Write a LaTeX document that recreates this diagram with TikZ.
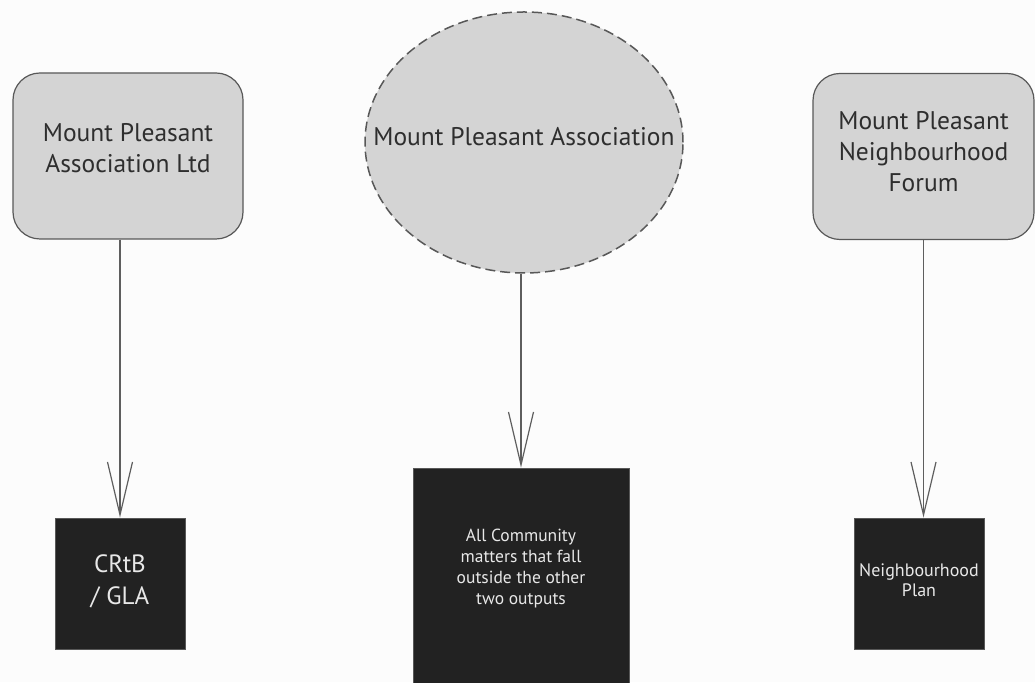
\documentclass[tikz,border=0pt]{standalone}
\usepackage{fontspec}
\setmainfont{PT Sans}
\usetikzlibrary{arrows.meta, shapes.geometric}
\definecolor{boxgrey}{HTML}{D4D4D4}
\definecolor{edgegrey}{HTML}{585858}
\definecolor{pilgrey}{HTML}{5E5E5E}
\definecolor{orgtext}{HTML}{2E2E2E}
\definecolor{outblack}{HTML}{222222}
\definecolor{outtext}{HTML}{E8E8E8}
\definecolor{pagewhite}{HTML}{FCFCFC}
\begin{document}
\begin{tikzpicture}[
        x=1pt, y=1pt,
        orgbox/.style = {rectangle, rounded corners=27pt, draw=edgegrey, line width=1.2pt, fill=boxgrey, text=orgtext, minimum width=230pt, minimum height=166pt, inner sep=0pt, align=center, font=\fontsize{25.5}{31}\selectfont},
        orgoval/.style = {ellipse, draw=edgegrey, line width=1.5pt, dash pattern=on 10pt off 5pt, fill=boxgrey, minimum width=318pt, minimum height=261pt, inner sep=0pt},
        outbox/.style = {rectangle, draw=edgegrey, line width=0.8pt, fill=outblack, text=outtext, inner sep=0pt, align=center},
        pil/.style = {pilgrey, line width=1.2pt, -{Straight Barb[length=53pt, width=25pt, line width=1.2pt]}}
        ]
        \useasboundingbox[fill=pagewhite] (0,0) rectangle (1035,682);
        \node[orgbox, text depth=16pt] (ltd) at (128,526) {Mount Pleasant\\Association Ltd};
        \node[orgoval, label={[text=orgtext, font=\fontsize{25.5}{31}\selectfont, yshift=6pt]center:Mount Pleasant Association}] (mpa) at (524,539.5) {};
        \node[orgbox, minimum width=221pt, text depth=10pt] (forum) at (923.5,525.5) {Mount Pleasant\\Neighbourhood\\Forum};
        \node[outbox, minimum width=130pt, minimum height=131pt, text depth=7pt, font=\fontsize{25}{32}\selectfont] (crtb) at (120,98.5) {CRtB\\/ GLA};
        \node[outbox, minimum size=216pt, label={[text=outtext, align=center, font=\fontsize{17.5}{21}\selectfont, yshift=7pt]center:All Community\\matters that fall\\outside the other\\two outputs}] (matters) at (521,106) {};
        \node[outbox, minimum width=130pt, minimum height=131pt, text depth=6pt, font=\fontsize{18}{20}\selectfont] (plan) at (919,98.5) {Neighbourhood\\Plan};
        
        \path[pil] (ltd.south -| crtb.north) edge (crtb.north)
        (mpa.south -| matters.north) edge (matters.north)
        (forum.south) edge (forum.south |- plan.north);
        
      \end{tikzpicture}
\end{document}
